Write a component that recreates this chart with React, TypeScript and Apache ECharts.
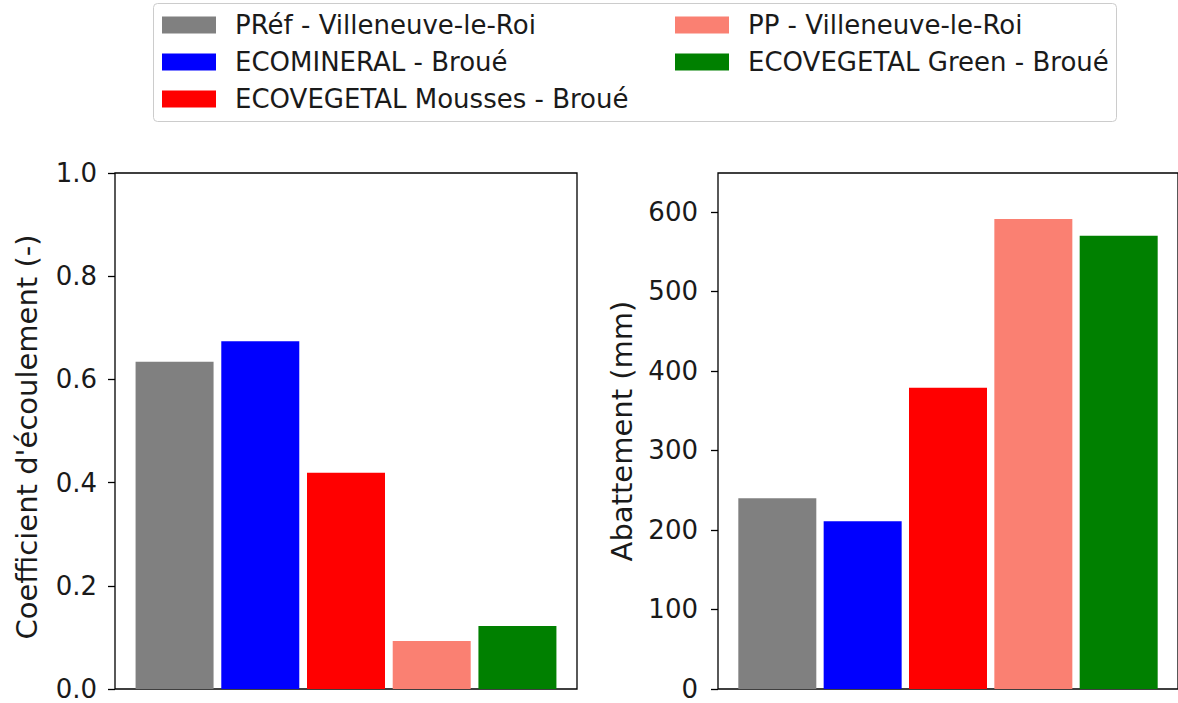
import React, { useEffect, useRef } from "react";
import * as echarts from "echarts";

const names = [
  "PRéf - Villeneuve-le-Roi",
  "ECOMINERAL - Broué",
  "ECOVEGETAL Mousses - Broué",
  "PP - Villeneuve-le-Roi",
  "ECOVEGETAL Green - Broué",
];
const colors = ["#808080", "#0000ff", "#ff0000", "#fa8072", "#008000"];
const coefValues = [0.634, 0.674, 0.419, 0.093, 0.122];
const abatValues = [240, 211, 379, 591, 570];
const coefAxis = { min: 0, max: 1, interval: 0.2 };
const abatAxis = { min: 0, max: 649, interval: 100 };
const legendCol1 = [names[0], names[1], names[2]];
const legendCol2 = [names[3], names[4]];

const FONT = "DejaVu Sans";
const TXT = "#1a1a1a";

export default function App() {
  const ref = useRef<HTMLDivElement>(null);
  useEffect(() => {
    if (!ref.current) return;
    const chart = echarts.init(ref.current, null, { renderer: "svg" });
    const gridCommon = { top: 173, height: 516, width: 462, show: true, borderColor: "#000", borderWidth: 1.3, backgroundColor: "#fff" };
    const xAxisCommon = {
      type: "value",
      min: -0.695,
      max: 4.695,
      axisLine: { show: false, onZero: false },
      axisTick: { show: false },
      axisLabel: { show: false },
      splitLine: { show: false },
    };
    const yAxisCommon = {
      type: "value",
      position: "left",
      axisLine: { show: false, onZero: false },
      splitLine: { show: false },
      axisTick: { show: true, length: 7, lineStyle: { color: "#000", width: 1.3 } },
      nameLocation: "middle",
    };
    const series: any[] = [];
    names.forEach((n, i) => {
      series.push({
        type: "bar",
        name: n,
        xAxisIndex: 0,
        yAxisIndex: 0,
        data: [[i, coefValues[i]]],
        barWidth: 78,
        barGap: "-100%",
        itemStyle: { color: colors[i] },
      });
      series.push({
        type: "bar",
        name: n,
        xAxisIndex: 1,
        yAxisIndex: 1,
        data: [[i, abatValues[i]]],
        barWidth: 78,
        barGap: "-100%",
        itemStyle: { color: colors[i] },
      });
    });
    const legendCommon = {
      orient: "vertical",
      top: 12,
      padding: 0,
      itemWidth: 54,
      itemHeight: 17,
      itemGap: 11,
      icon: "rect",
      textStyle: { fontFamily: FONT, fontSize: 26, color: TXT, padding: [0, 0, 0, 14] },
      selectedMode: false,
    };
    const labelCommon = { fontFamily: FONT, fontSize: 26, color: TXT };
    chart.setOption({
      animation: false,
      backgroundColor: "#fff",
      textStyle: { fontFamily: FONT },
      graphic: [
        {
          type: "rect",
          z: -1,
          shape: { x: 153.5, y: 3.5, width: 963, height: 118, r: 4 },
          style: { fill: "#fff", stroke: "#cccccc", lineWidth: 1 },
        },
      ],
      legend: [
        { ...legendCommon, left: 162, data: legendCol1 },
        { ...legendCommon, left: 675, data: legendCol2 },
      ],
      grid: [
        { ...gridCommon, left: 115 },
        { ...gridCommon, left: 718 },
      ],
      xAxis: [
        { ...xAxisCommon, gridIndex: 0 },
        { ...xAxisCommon, gridIndex: 1 },
      ],
      yAxis: [
        {
          ...yAxisCommon,
          gridIndex: 0,
          ...coefAxis,
          name: "Coefficient d'écoulement (-)",
          nameGap: 74,
          nameTextStyle: { fontFamily: FONT, fontSize: 29, color: TXT, padding: [0, 12, 0, 0] },
          axisLabel: {
            ...labelCommon,
            formatter: (v: number) => v.toFixed(1),
            margin: 18,
          },
        },
        {
          ...yAxisCommon,
          gridIndex: 1,
          ...abatAxis,
          name: "Abattement (mm)",
          nameGap: 82,
          nameTextStyle: { fontFamily: FONT, fontSize: 29, color: TXT },
          axisLabel: {
            ...labelCommon,
            formatter: (v: number) => String(v),
            margin: 20,
            showMaxLabel: false,
          },
        },
      ],
      series,
    });
    return () => chart.dispose();
  }, []);
  return <div ref={ref} style={{ position: "absolute", left: 0, top: 0, width: 1178, height: 703 }} />;
}
